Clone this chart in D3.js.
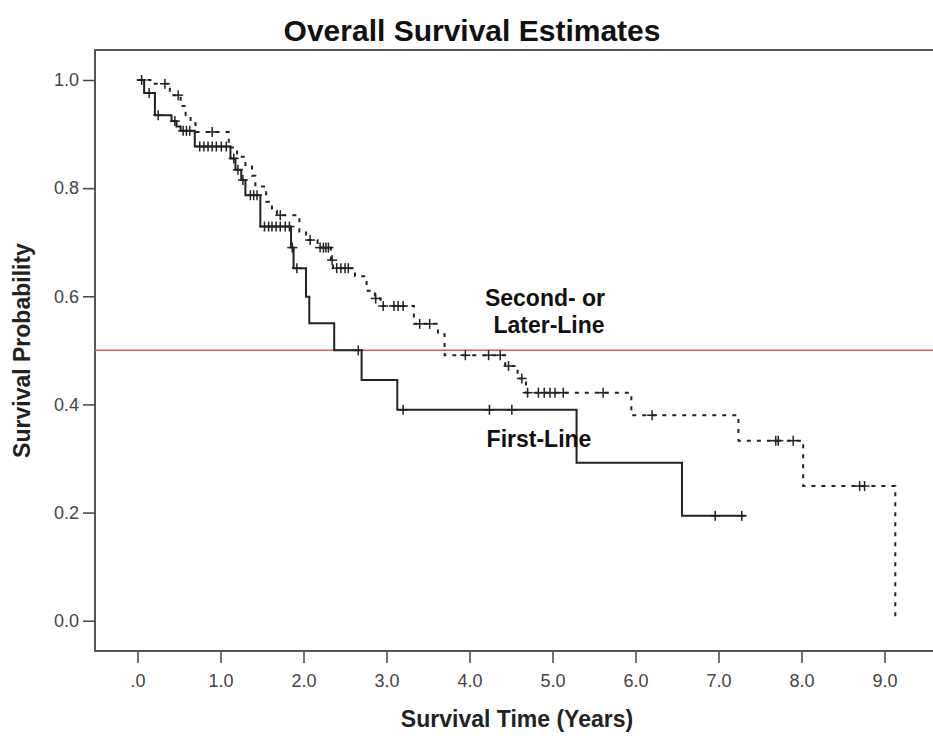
<!DOCTYPE html>
<html>
<head>
<meta charset="utf-8">
<script src="https://cdn.jsdelivr.net/npm/d3@7"></script>
<style>
  body { margin: 0; background: #fff; }
  svg { display: block; font-family: Arial, "Liberation Sans", sans-serif; }
</style>
</head>
<body>
<svg width="933" height="736"></svg>
<script>
// First-Line: event times and survival after each drop
const firstTimes = [0, 0.08, 0.21, 0.41, 0.47, 0.52, 0.69, 1.12, 1.18, 1.25, 1.30, 1.48, 1.85, 1.88, 2.03, 2.07, 2.37, 2.70, 3.13, 5.29, 6.56];
const firstSurv  = [1, 0.976, 0.935, 0.924, 0.914, 0.906, 0.877, 0.855, 0.834, 0.815, 0.787, 0.729, 0.69, 0.652, 0.599, 0.55, 0.50, 0.445, 0.39, 0.292, 0.194];
const firstEnd = 7.32;
const firstCensor = [0.05, 0.14, 0.25, 0.45, 0.55, 0.59, 0.63, 0.75, 0.80, 0.85, 0.90, 0.95, 1.01, 1.07, 1.16, 1.21, 1.27,
  1.36, 1.40, 1.44, 1.53, 1.58, 1.62, 1.67, 1.72, 1.78, 1.83, 1.865, 1.92, 2.66, 3.20, 4.24, 4.51, 6.96, 7.28];

// Second- or Later-Line
const laterTimes = [0, 0.17, 0.39, 0.52, 0.58, 0.64, 0.70, 1.10, 1.20, 1.30, 1.38, 1.42, 1.55, 1.62, 1.68, 1.95, 2.03, 2.17,
  2.33, 2.355, 2.62, 2.76, 2.86, 2.93, 3.33, 3.62, 3.70, 4.43, 4.58, 4.68, 5.95, 7.24, 8.02, 9.13];
const laterSurv  = [1, 0.993, 0.972, 0.952, 0.935, 0.92, 0.904, 0.875, 0.858, 0.843, 0.823, 0.803, 0.775, 0.758, 0.750, 0.72, 0.704, 0.69,
  0.667, 0.652, 0.637, 0.61, 0.596, 0.582, 0.549, 0.53, 0.491, 0.471, 0.448, 0.4217, 0.380, 0.333, 0.249, 0];
const laterCensor = [0.33, 0.49, 0.90, 1.72, 2.08, 2.20, 2.24, 2.27, 2.30, 2.345, 2.40, 2.45, 2.50, 2.54, 2.87, 2.96, 3.09, 3.14, 3.20,
  3.40, 3.52, 3.95, 4.23, 4.37, 4.47, 4.63, 4.70, 4.83, 4.90, 4.97, 5.03, 5.13, 5.61, 6.20, 7.69, 7.72, 7.90, 8.70, 8.76];

const xTicks = [0, 1, 2, 3, 4, 5, 6, 7, 8, 9];
const yTicks = [0, 0.2, 0.4, 0.6, 0.8, 1.0];
const medianLine = 0.5;

const svg = d3.select('svg');

const frame = { left: 95, top: 50, right: 940, bottom: 651 };

const x = d3.scaleLinear().domain([0, 9]).range([137.5, 884.5]);
const y = d3.scaleLinear().domain([0, 1]).range([620.7, 80]);

// title
svg.append('text')
  .attr('x', 472)
  .attr('y', 41)
  .attr('text-anchor', 'middle')
  .attr('font-size', 30)
  .attr('font-weight', 'bold')
  .attr('fill', '#111')
  .text('Overall Survival Estimates');

// axes
const xAxis = svg.append('g')
  .attr('transform', `translate(0,${frame.bottom})`)
  .call(d3.axisBottom(x).tickValues(xTicks).tickSize(12).tickSizeOuter(0)
    .tickFormat(d => d === 0 ? '.0' : d.toFixed(1)));

const yAxis = svg.append('g')
  .attr('transform', `translate(${frame.left},0)`)
  .call(d3.axisLeft(y).tickValues(yTicks).tickSize(12).tickSizeOuter(0)
    .tickFormat(d3.format('.1f')));

[xAxis, yAxis].forEach(g => {
  g.select('.domain').remove();
  g.selectAll('line').attr('stroke', '#444').attr('stroke-width', 1.5);
  g.selectAll('text').attr('font-size', 18).attr('fill', '#444')
    .attr('font-family', 'Arial, "Liberation Sans", sans-serif');
});
xAxis.selectAll('text').attr('dy', '1.15em');
yAxis.selectAll('text').attr('dx', '-0.05em');

// frame
svg.append('rect')
  .attr('x', frame.left)
  .attr('y', frame.top)
  .attr('width', frame.right - frame.left)
  .attr('height', frame.bottom - frame.top)
  .attr('fill', 'none')
  .attr('stroke', '#555')
  .attr('stroke-width', 2);

// axis titles
svg.append('text')
  .attr('x', 517)
  .attr('y', 727)
  .attr('text-anchor', 'middle')
  .attr('font-size', 23)
  .attr('font-weight', 'bold')
  .attr('fill', '#222')
  .text('Survival Time (Years)');

svg.append('text')
  .attr('transform', `translate(30,${(frame.top + frame.bottom) / 2}) rotate(-90)`)
  .attr('text-anchor', 'middle')
  .attr('font-size', 23)
  .attr('font-weight', 'bold')
  .attr('fill', '#222')
  .text('Survival Probability');

// median reference line
svg.append('line')
  .attr('x1', frame.left)
  .attr('x2', 933)
  .attr('y1', y(medianLine))
  .attr('y2', y(medianLine))
  .attr('stroke', '#e05a5a')
  .attr('stroke-width', 1.5);

// curves
const line = d3.line()
  .x(d => x(d[0]))
  .y(d => y(d[1]))
  .curve(d3.curveStepAfter);

const firstPts = firstTimes.map((t, i) => [t, firstSurv[i]]);
firstPts.push([firstEnd, firstSurv[firstSurv.length - 1]]);
const laterPts = laterTimes.map((t, i) => [t, laterSurv[i]]);

const survAt = (times, surv, t) => surv[d3.bisectRight(times, t) - 1];

svg.append('path')
  .attr('d', line(laterPts))
  .attr('fill', 'none')
  .attr('stroke', '#222')
  .attr('stroke-width', 2)
  .attr('stroke-dasharray', '4,6');

svg.append('path')
  .attr('d', line(firstPts))
  .attr('fill', 'none')
  .attr('stroke', '#222')
  .attr('stroke-width', 2);

function censorMarks(times, surv, cens) {
  const g = svg.append('g').attr('stroke', '#222').attr('stroke-width', 1.5);
  cens.forEach(t => {
    const cx = x(t), cy = y(survAt(times, surv, t));
    g.append('line').attr('x1', cx - 5).attr('x2', cx + 5).attr('y1', cy).attr('y2', cy);
    g.append('line').attr('x1', cx).attr('x2', cx).attr('y1', cy - 5).attr('y2', cy + 5);
  });
}
censorMarks(laterTimes, laterSurv, laterCensor);
censorMarks(firstTimes, firstSurv, firstCensor);

// curve labels
const labels = svg.append('g')
  .attr('font-size', 23)
  .attr('font-weight', 'bold')
  .attr('fill', '#111')
  .attr('text-anchor', 'middle');
labels.append('text').attr('x', 545).attr('y', 306).text('Second- or');
labels.append('text').attr('x', 549).attr('y', 333).text('Later-Line');
labels.append('text').attr('x', 539).attr('y', 447).text('First-Line');
</script>
</body>
</html>
